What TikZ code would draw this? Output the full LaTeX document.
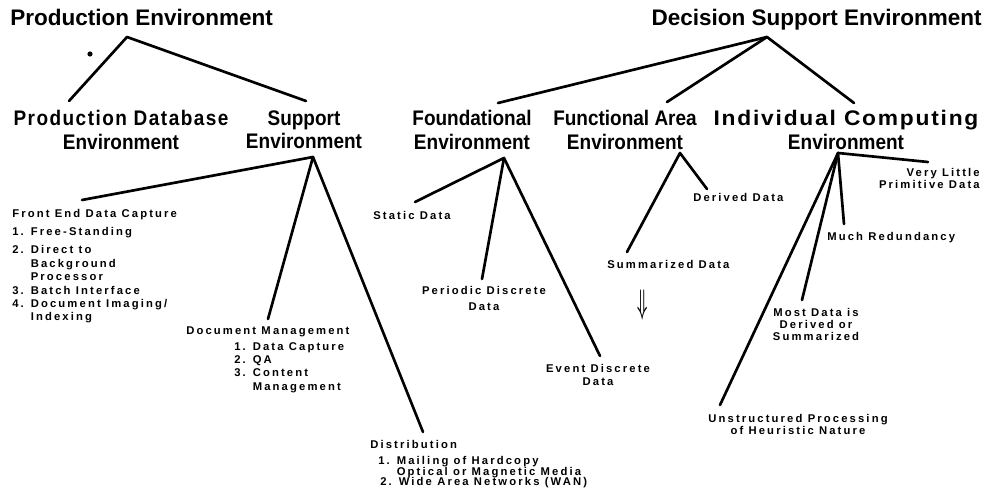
\documentclass[tikz,border=0pt]{standalone}
\usepackage{fontspec}
\usepackage{tikz}
\usetikzlibrary{calc}
\newfontfamily\titlefont{Liberation Sans}
\newfontfamily\headfont{Liberation Sans}[FakeStretch=0.9]
\newfontfamily\headsp{Liberation Sans}[FakeStretch=0.9, LetterSpace=7]
\newfontfamily\notefont{Liberation Sans}[LetterSpace=19]

\begin{document}
\begin{tikzpicture}[x=0.025cm, y=-0.025cm,
    big/.style={font=\titlefont\bfseries\fontsize{16}{18}\selectfont, inner sep=0pt},
    mid/.style={font=\headfont\bfseries\fontsize{15}{17}\selectfont, align=center, inner sep=0pt},
    note/.style={font=\notefont\bfseries\fontsize{8}{9.5}\selectfont, align=left, inner sep=0pt},
    branch/.style={line width=1.9pt, line cap=round, line join=round},
    spot/.style={circle, fill, inner sep=1.3pt}]
    \useasboundingbox (0,0) rectangle (988,498);

    \node[big, anchor=north west] (pe) at (10,9) {Production Environment};
    \node[big, anchor=north east] (dse) at (982,9) {Decision Support Environment};
    \node[spot] (dot) at (90,54) {};

    \node[mid, anchor=north] (pde) at (121,110) {{\headsp Production Database}\\Environment};
    \node[mid, anchor=north] (se) at (304,110) {Support\\Environment};
    \node[mid, anchor=north] (fe) at (472,110) {Foundational\\Environment};
    \node[mid, anchor=north] (fae) at (625,110) {Functional Area\\Environment};
    \node[mid, anchor=north] (ice) at (846,110) {\scalebox{1.2}[1]{\headsp Individual Computing}\\Environment};

    \node[note, anchor=north west] (fedc) at (12,209) {Front End Data Capture\\[3pt]
        1. Free-Standing\\[4pt]
        2. Direct to\\ \phantom{2. }Background\\ \phantom{2. }Processor\\
        3. Batch Interface\\
        4. Document Imaging/\\ \phantom{4. }Indexing};
    \node[note, anchor=north west] (dm) at (186,326) {Document Management\\[2pt]
        \hspace*{1.2cm}1. Data Capture\\
        \hspace*{1.2cm}2. QA\\
        \hspace*{1.2cm}3. Content\\
        \hspace*{1.2cm}\phantom{3. }Management};
    \node[note, anchor=north west] (dist) at (370,440) {Distribution\\[2pt]
        \hspace*{0.2cm}1. Mailing of Hardcopy\\[-2pt]
        \hspace*{0.2cm}\phantom{1. }Optical or Magnetic Media\\[-2pt]
        \hspace*{0.25cm}2. Wide Area Networks (WAN)};

    \node[note, anchor=north west] (static) at (373,211) {Static Data};
    \node[note, anchor=north, align=center] (periodic) at (484,286) {Periodic Discrete\\[2pt]Data};
    \node[note, anchor=north, align=center] (event) at (598,364) {Event Discrete\\Data};

    \node[note, anchor=north west] (derived) at (693,193) {Derived Data};
    \node[note, anchor=north west] (summ) at (607,260) {Summarized Data};
    \node[font=\fontsize{16}{16}\selectfont, inner sep=0pt] (down) at (643,305) {\scalebox{0.6}[1.4]{\boldmath$\Downarrow$}};

    \node[note, anchor=north east, align=right] (little) at (980,168) {Very Little\\[-1pt]Primitive Data};
    \node[note, anchor=north west] (much) at (827,232) {Much Redundancy};
    \node[note, anchor=north, align=center] (most) at (816,308) {Most Data is\\[-1pt]Derived or\\[-1pt]Summarized};
    \node[note, anchor=north, align=center] (unstr) at (798,414) {Unstructured Processing\\[-1pt]of Heuristic Nature};

    \coordinate (pe-tip) at (127,37);
    \coordinate (dse-tip) at (767,37);
    \coordinate (se-tip) at (313,157);
    \coordinate (fe-tip) at (504,158);
    \coordinate (fae-tip) at (680,153);
    \coordinate (ice-tip) at (838,153);

    \draw[branch] ($(pde.north)+(-52,-9)$) -- (pe-tip) -- ($(se.north)+(2,-9)$);
    \draw[branch] ($(fe.north)+(26,-7)$) -- (dse-tip) -- ($(ice.north)+(8,-7)$);
    \draw[branch] (dse-tip) -- ($(fae.north)+(42,-8)$);

    \draw[branch] ($(fedc.north west)+(70,-9)$) -- (se-tip) -- ($(dist.north west)+(53,-8)$);
    \draw[branch] (se-tip) -- ($(dm.north west)+(82,-7)$);

    \draw[branch] ($(static.north west)+(42,-9)$) -- (fe-tip) -- ($(event.north)+(2,-8)$);
    \draw[branch] (fe-tip) -- ($(periodic.north)+(-2,-7)$);

    \draw[branch] ($(summ.north west)+(20,-8)$) -- (fae-tip) -- ($(derived.north west)+(14,-4)$);

    \draw[branch] ($(unstr.north)+(-78,-9)$) -- (ice-tip) -- ($(little.north east)+(-52,-6)$);
    \draw[branch] (ice-tip) -- ($(much.north west)+(17,-8)$);
    \draw[branch] (ice-tip) -- ($(most.north)+(-14,-8)$);
\end{tikzpicture}
\end{document}
